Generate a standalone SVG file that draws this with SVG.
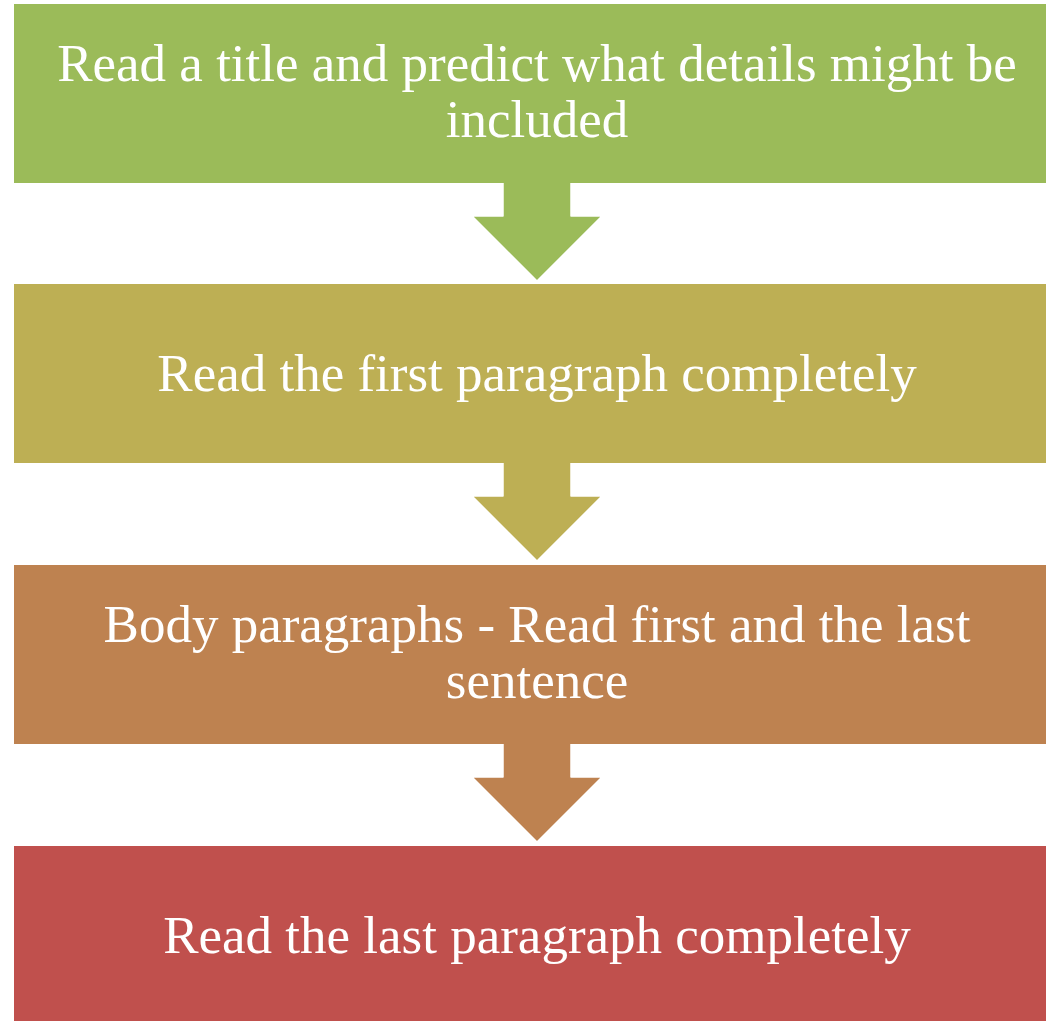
<svg xmlns="http://www.w3.org/2000/svg" width="1046" height="1021" viewBox="0 0 1046 1021">
  <style>
    .label { font-family: "Liberation Serif", "Times New Roman", serif; font-size: 53px; fill: #ffffff; text-anchor: middle; }
    .arrow { stroke: #ffffff; stroke-width: 1.5; stroke-linejoin: round; }
  </style>
  <defs>
    <!-- down arrow: shaft then head, origin at top centre; left open at the top so the shaft joins the box above -->
    <path id="downArrow" d="M 34 0 L 34 33 L 65 33 L 0 98 L -65 33 L -34 33 L -34 0"/>
  </defs>
  <rect width="1046" height="1021" fill="#ffffff"/>

  <g id="step1">
    <rect x="14" y="4" width="1046" height="179" fill="#9BBB59"/>
    <text class="label" x="537" y="81">Read a title and predict what details might be</text>
    <text class="label" x="537" y="137">included</text>
  </g>

  <g id="step2">
    <rect x="14" y="284" width="1046" height="179" fill="#BDAF54"/>
    <text class="label" x="537" y="391">Read the first paragraph completely</text>
  </g>

  <g id="step3">
    <rect x="14" y="565" width="1046" height="179" fill="#BE8250"/>
    <text class="label" x="537" y="642">Body paragraphs - Read first and the last</text>
    <text class="label" x="537" y="698">sentence</text>
  </g>

  <g id="step4">
    <rect x="14" y="846" width="1046" height="179" fill="#C0504D"/>
    <text class="label" x="537" y="953">Read the last paragraph completely</text>
  </g>

  <g id="connectors">
    <use href="#downArrow" class="arrow" x="537" y="183" fill="#9BBB59"/>
    <use href="#downArrow" class="arrow" x="537" y="463" fill="#BDAF54"/>
    <use href="#downArrow" class="arrow" x="537" y="744" fill="#BE8250"/>
  </g>
</svg>
